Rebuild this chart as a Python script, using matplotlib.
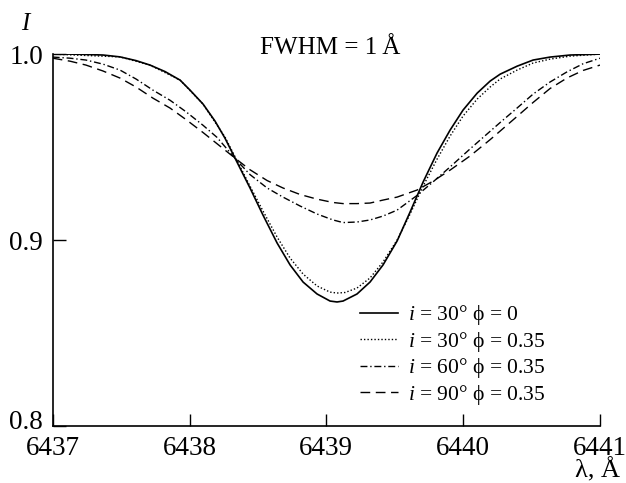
import numpy as np
import matplotlib
matplotlib.use("Agg")
import matplotlib.pyplot as plt
import matplotlib.transforms as mtransforms

plt.rcParams['font.family'] = ['Liberation Serif', 'DejaVu Serif']
plt.rcParams['mathtext.fontset'] = 'custom'
plt.rcParams['mathtext.rm'] = 'Liberation Serif'
plt.rcParams['mathtext.it'] = 'Liberation Serif:italic'

# Profils (lambda en A, intensite I)
# i = 30, phi = 0
lam_a = [6437.000, 6437.126, 6437.243, 6437.368, 6437.492, 6437.609, 6437.711, 6437.821,
         6437.931, 6438.004, 6438.099, 6438.186, 6438.259, 6438.347, 6438.442, 6438.537,
         6438.640, 6438.735, 6438.830, 6438.932, 6439.027, 6439.078, 6439.122, 6439.224,
         6439.319, 6439.414, 6439.517, 6439.612, 6439.707, 6439.809, 6439.904, 6439.999,
         6440.102, 6440.197, 6440.270, 6440.394, 6440.511, 6440.635, 6440.781, 6441.000]
I_a = [1.000, 1.000, 0.9998, 0.9995, 0.9985, 0.9965, 0.9941, 0.9906,
       0.9860, 0.9806, 0.9731, 0.9640, 0.9548, 0.9419, 0.9280, 0.9134,
       0.8984, 0.8866, 0.8774, 0.8710, 0.8672, 0.8667, 0.8672, 0.8710,
       0.8774, 0.8866, 0.8995, 0.9151, 0.9312, 0.9468, 0.9591, 0.9699,
       0.9790, 0.9855, 0.9892, 0.9935, 0.9968, 0.9984, 0.9995, 1.000]

# i = 30, phi = 0.35
lam_b = [6437.000, 6437.492, 6437.711, 6437.931, 6438.099, 6438.259, 6438.442, 6438.537,
         6438.640, 6438.735, 6438.830, 6438.932, 6439.027, 6439.078, 6439.137, 6439.224,
         6439.319, 6439.414, 6439.517, 6439.612, 6439.707, 6439.809, 6439.904, 6439.999,
         6440.102, 6440.197, 6440.270, 6440.394, 6440.511, 6440.635, 6440.781, 6441.000]
I_b = [1.000, 0.9985, 0.9941, 0.9860, 0.9731, 0.9554, 0.9290, 0.9156,
       0.9016, 0.8903, 0.8817, 0.8753, 0.8720, 0.8715, 0.8718, 0.8742,
       0.8796, 0.8882, 0.9000, 0.9140, 0.9290, 0.9435, 0.9559, 0.9667,
       0.9758, 0.9823, 0.9866, 0.9914, 0.9952, 0.9973, 0.9989, 1.000]

# i = 60, phi = 0.35
lam_c = [6437.000, 6437.126, 6437.243, 6437.368, 6437.492, 6437.609, 6437.733, 6437.857,
         6437.974, 6438.099, 6438.201, 6438.347, 6438.442, 6438.567, 6438.683, 6438.808,
         6438.932, 6439.049, 6439.122, 6439.224, 6439.319, 6439.414, 6439.517, 6439.663,
         6439.780, 6439.904, 6440.050, 6440.197, 6440.270, 6440.394, 6440.511, 6440.635,
         6440.760, 6440.876, 6441.000]
I_c = [0.9984, 0.9978, 0.9968, 0.9946, 0.9914, 0.9866, 0.9806, 0.9752,
       0.9690, 0.9617, 0.9552, 0.9427, 0.9352, 0.9280, 0.9231, 0.9183,
       0.9140, 0.9108, 0.9094, 0.9097, 0.9108, 0.9129, 0.9161, 0.9240,
       0.9313, 0.9393, 0.9490, 0.9585, 0.9632, 0.9710, 0.9785, 0.9850,
       0.9905, 0.9948, 0.9978]

# i = 90, phi = 0.35
lam_d = [6437.000, 6437.126, 6437.243, 6437.368, 6437.492, 6437.609, 6437.733, 6437.857,
         6437.974, 6438.099, 6438.201, 6438.347, 6438.442, 6438.567, 6438.683, 6438.808,
         6438.932, 6439.049, 6439.122, 6439.224, 6439.319, 6439.414, 6439.517, 6439.663,
         6439.780, 6439.904, 6440.050, 6440.197, 6440.270, 6440.394, 6440.511, 6440.635,
         6440.760, 6440.876, 6441.000]
I_d = [0.9978, 0.9962, 0.9941, 0.9909, 0.9871, 0.9823, 0.9763, 0.9710,
       0.9648, 0.9578, 0.9518, 0.9432, 0.9378, 0.9320, 0.9280, 0.9245,
       0.9220, 0.9202, 0.9196, 0.9196, 0.9199, 0.9215, 0.9231, 0.9269,
       0.9317, 0.9376, 0.9452, 0.9540, 0.9586, 0.9665, 0.9740, 0.9815,
       0.9872, 0.9912, 0.9941]

labels = [r'$i$ = 30° ϕ = 0', r'$i$ = 30° ϕ = 0.35',
          r'$i$ = 60° ϕ = 0.35', r'$i$ = 90° ϕ = 0.35']

fig = plt.figure(figsize=(6.26, 4.83), dpi=100)
ax = fig.add_axes([0.0842, 0.118, 0.8743, 0.770])

ax.plot(lam_a, I_a, color='black', lw=1.2, ls='-', label=labels[0])
ax.plot(lam_b, I_b, color='black', lw=1.0, ls=(0, (1, 1.5)), label=labels[1])
ax.plot(lam_c, I_c, color='black', lw=1.0, ls=(0, (5, 2, 1, 2)), label=labels[2])
ax.plot(lam_d, I_d, color='black', lw=1.0, ls=(0, (7, 4)), label=labels[3])

ax.set_xlim(6437, 6441)
ax.set_ylim(0.8, 1.0)
ax.set_xticks([6437, 6438, 6439, 6440, 6441])
ax.set_xticklabels(['6437', '6438', '6439', '6440', '6441'])
ax.set_yticks([0.8, 0.9, 1.0])
ax.set_yticklabels(['0.8', '0.9', '1.0'])
ax.spines['top'].set_visible(False)
ax.spines['right'].set_visible(False)
for s in ('left', 'bottom'):
    ax.spines[s].set_linewidth(1.2)
ax.tick_params(direction='in', length=9, width=1.0, labelsize=19.5, pad=7)
ax.tick_params(axis='y', pad=7)

# le 0.8 est un peu remonte dans l'original
lab08 = ax.get_yticklabels()[0]
lab08.set_transform(lab08.get_transform() +
                    mtransforms.ScaledTranslation(0, 5 / 72, fig.dpi_scale_trans))

ax.text(0.507, 1.016, 'FWHM = 1\u2009Å', transform=ax.transAxes, fontsize=18,
        ha='center', va='center')
fig.text(0.043, 0.95, '$I$', fontsize=18, ha='center', va='center')
fig.text(0.955, 0.002, 'λ, Å', fontsize=19, ha='center', va='bottom')

leg = ax.legend(loc='upper left', bbox_to_anchor=(0.5615, 0.33), frameon=False,
                fontsize=15.5, handlelength=1.77, handletextpad=0.47,
                labelspacing=0.12, borderpad=0, borderaxespad=0)

fig.savefig('out.png', dpi=100)
